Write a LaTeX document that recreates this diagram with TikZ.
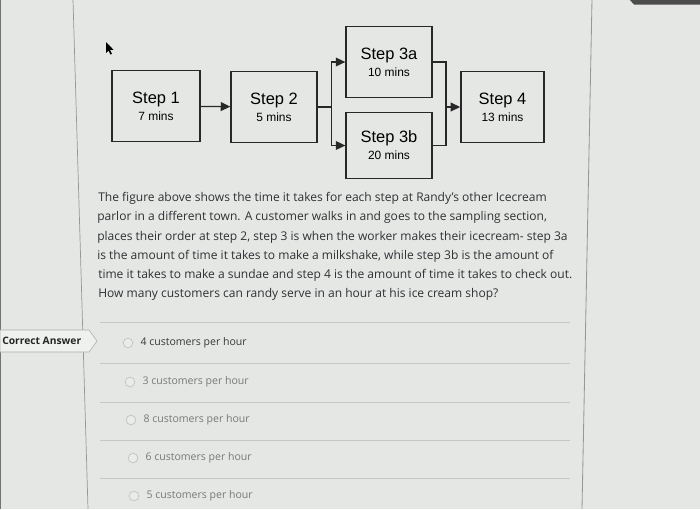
\documentclass[tikz,border=0pt]{standalone}
\usepackage{fontspec}
\setmainfont{Open Sans}
\newfontfamily\arialfont{Liberation Sans}
\usetikzlibrary{arrows.meta,positioning}
\definecolor{pagebg}{RGB}{229,231,229}
\definecolor{boxline}{RGB}{40,40,40}
\definecolor{qtext}{RGB}{48,48,52}
\definecolor{opttext}{RGB}{95,95,95}
\definecolor{optfade}{RGB}{120,120,120}
\definecolor{rulegray}{RGB}{198,200,198}
\definecolor{frameline}{RGB}{150,152,150}
\tikzset{
  stepbox/.style={rectangle, draw=boxline, line width=0.9pt, fill=pagebg,
                  minimum width=2.15cm, minimum height=1.78cm, align=center,
                  font=\arialfont\fontsize{11.7}{14}\selectfont, inner sep=2pt},
  flow/.style={-{Triangle[length=2.4mm, width=2.2mm]}, line width=0.9pt, boxline},
  link/.style={line width=0.9pt, boxline},
  qline/.style={anchor=west, font=\fontsize{8.55}{10}\selectfont, text=qtext, inner sep=0pt},
  optline/.style={anchor=west, font=\fontsize{7.5}{9}\selectfont, text=optfade, inner sep=0pt},
  radio/.style={circle, draw=rulegray, fill=pagebg!80!white, line width=0.6pt,
                minimum size=0.24cm, inner sep=0pt},
}
\newcommand{\mins}[1]{{\fontsize{8.5}{10}\selectfont #1}}
\begin{document}
\begin{tikzpicture}[x=0.025cm, y=-0.025cm]
\useasboundingbox[fill=pagebg] (0,0) rectangle (700,509);

% screen frame
\draw[frameline, line width=0.5pt] (73,0) -- (88,509);
\draw[frameline, line width=0.6pt] (592,0) -- (582,509);
\fill[black!70] (630,0) -- (700,0) -- (700,4.5) -- (634,4.5) -- cycle;
\fill[black!55] (0,0) rectangle (1.5,509);

% mouse pointer
\fill[black] (106,42) -- (106,53) -- (108.5,50.5) -- (110.5,54.5) -- (112,53.8) -- (110,49.8) -- (113.5,49.8) -- cycle;

% flow chart
\node[stepbox, minimum width=2.2cm] (s1) at (156,106) {Step 1\\[-2pt]\mins{7 mins}};
\node[stepbox] (s2) at (274,107) {Step 2\\[-2pt]\mins{5 mins}};
\node[stepbox] (s3a) at (389,62) {Step 3a\\[-2pt]\mins{10 mins}};
\node[stepbox, minimum height=1.65cm] (s3b) at (389,145.5) {Step 3b\\[-2pt]\mins{20 mins}};
\node[stepbox, minimum width=2.08cm] (s4) at (502.5,107) {Step 4\\[-2pt]\mins{13 mins}};

\draw[flow] (s1) -- (s2);
\draw[link] (s2.east) -- ++(14,0) coordinate (split);
\draw[flow] (split) |- (s3a.west);
\draw[flow] (split) |- (s3b.west);
\coordinate (merge) at (446,107);
\draw[link] (s3a.east) -| (merge);
\draw[link] (s3b.east) -| (merge);
\draw[flow] (merge) -- (s4.west);

% question
\node[qline] (q1) at (98,198) {The figure above shows the time it takes for each step at Randy's other Icecream};
\node[qline] (q2) at (97,217.5) {parlor in a different town. A customer walks in and goes to the sampling section,};
\node[qline] (q3) at (97,237) {places their order at step 2, step 3 is when the worker makes their icecream- step 3a};
\node[qline] (q4) at (97,256) {is the amount of time it takes to make a milkshake, while step 3b is the amount of};
\node[qline] (q5) at (98,275.5) {time it takes to make a sundae and step 4 is the amount of time it takes to check out.};
\node[qline] (q6) at (98,294.5) {How many customers can randy serve in an hour at his ice cream shop?};

% answers
\foreach \y in {322,363,402,440,478}
  \draw[rulegray, line width=0.6pt] (100,\y) -- (570,\y);

\fill[pagebg!60!white, draw=frameline!80, line width=0.4pt]
  (0,330) -- (89,330) -- (97,341) -- (89,352) -- (0,352) -- cycle;
\node[anchor=west, font=\bfseries\fontsize{7.3}{9}\selectfont, text=black!85, inner sep=0pt] (correct) at (2,341) {Correct Answer};

\node[radio] (r1) at (128,343) {};
\node[optline, text=black!78, right=5pt of r1] (a1) {4 customers per hour};
\node[radio] (r2) at (130,382) {};
\node[optline, right=5pt of r2] (a2) {3 customers per hour};
\node[radio] (r3) at (131,420) {};
\node[optline, right=5pt of r3] (a3) {8 customers per hour};
\node[radio] (r4) at (133,458) {};
\node[optline, right=5pt of r4] (a4) {6 customers per hour};
\node[radio] (r5) at (134,496) {};
\node[optline, right=5pt of r5] (a5) {5 customers per hour};
\end{tikzpicture}
\end{document}
